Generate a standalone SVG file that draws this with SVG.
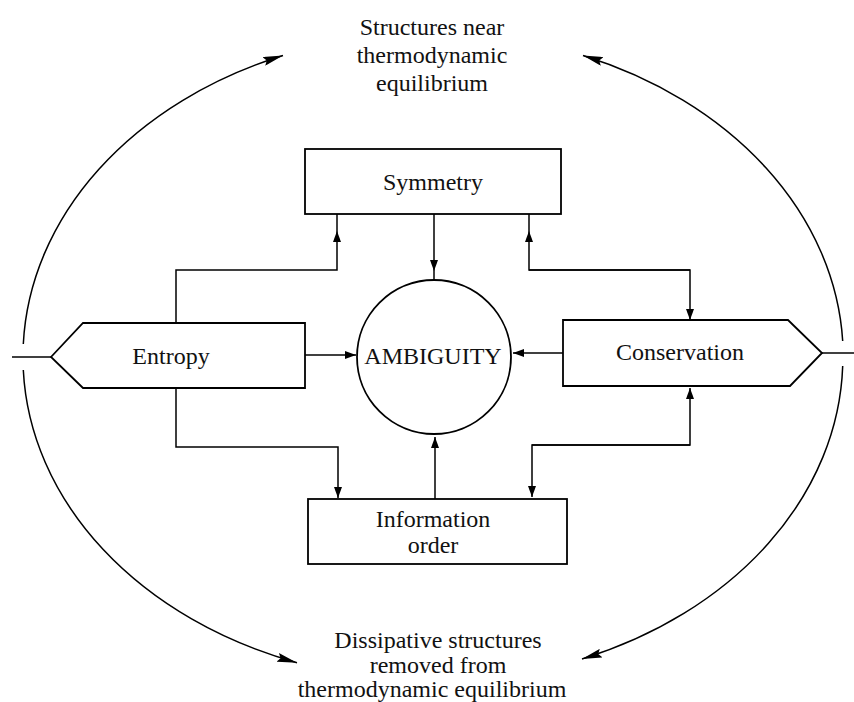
<svg xmlns="http://www.w3.org/2000/svg" width="854" height="702" viewBox="0 0 854 702">
<defs>
<marker id="ah" markerUnits="userSpaceOnUse" viewBox="0 0 11 8" refX="11" refY="4" markerWidth="11" markerHeight="8" orient="auto"><path d="M0,0 L11,4 L0,8 z" fill="#000"/></marker>
<marker id="bah" markerUnits="userSpaceOnUse" viewBox="0 0 20 9" refX="20" refY="4.5" markerWidth="20" markerHeight="9" orient="auto"><path d="M0,0 L20,4.5 L0,9 L3,4.5 z" fill="#000"/></marker>
<style>
.s{fill:#fff;stroke:#000;stroke-width:1.8}
.c{fill:none;stroke:#000;stroke-width:1.5}
.a{marker-end:url(#ah)}
.b{fill:none;stroke:#000;stroke-width:1.5;marker-end:url(#bah)}
text{font-family:"Liberation Serif","Times New Roman",serif;font-size:24px;fill:#111;text-anchor:middle}
</style>
</defs>
<rect width="854" height="702" fill="#fff"/>
<g id="connectors">
<path class="c a" d="M176,323 V270 H337 V231"/>
<path class="c" d="M337,231 V214"/>
<path class="c a" d="M434,214 V271"/>
<path class="c" d="M434,271 V280"/>
<path class="c a" d="M690,270 H529 V231"/>
<path class="c" d="M529,231 V214"/>
<path class="c a" d="M529,270 H690 V320"/>
<path class="c a" d="M176,388 V447 H338 V498"/>
<path class="c a" d="M435,499 V437"/>
<path class="c a" d="M690,445 H532 V497"/>
<path class="c a" d="M532,445 H690 V388"/>
<path class="c a" d="M305,355 H356"/>
<path class="c a" d="M563,353 H513"/>
<path class="c" d="M12,357 H51"/>
<path class="c" d="M822,353 H854"/>
<path class="b" d="M23.3,344 A410,324 0 0 1 283,55.5"/>
<path class="b" d="M23.3,370 A410,324 0 0 0 297,662.7"/>
<path class="b" d="M842.7,341 A410,324 0 0 0 583,55.5"/>
<path class="b" d="M842.7,366 A410,324 0 0 1 582,659"/>
</g>
<g id="symmetry"><rect class="s" x="305" y="149" width="256" height="65"/><text x="433" y="190">Symmetry</text></g>
<g id="entropy"><path class="s" d="M51,357 L83,323 H305 V388 H83 Z"/><text x="171" y="364">Entropy</text></g>
<g id="conservation"><path class="s" d="M563,320 H788 L822,353 L790,386 H563 Z"/><text x="680" y="360">Conservation</text></g>
<g id="ambiguity"><circle class="s" cx="434" cy="357" r="77"/><text x="433" y="364">AMBIGUITY</text></g>
<g id="information"><rect class="s" x="308" y="499" width="259" height="65"/><text x="433" y="527">Information</text><text x="433" y="553">order</text></g>
<g id="top-label"><text x="432" y="35">Structures near</text><text x="432" y="63">thermodynamic</text><text x="432" y="91">equilibrium</text></g>
<g id="bottom-label"><text x="438" y="648">Dissipative structures</text><text x="438" y="673">removed from</text><text x="432" y="697">thermodynamic equilibrium</text></g>
</svg>
